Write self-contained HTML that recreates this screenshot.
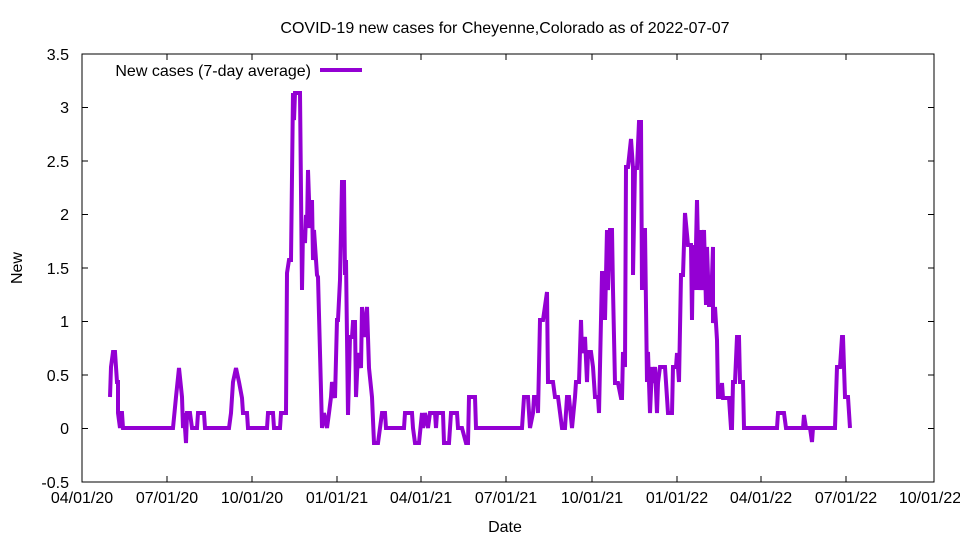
<!DOCTYPE html>
<html><head><meta charset="utf-8"><style>body{margin:0;background:#fff}svg{display:block}text{font-family:"Liberation Sans",sans-serif;font-size:16px;fill:#000}</style></head><body>
<svg width="960" height="540" viewBox="0 0 960 540">
<rect x="82" y="54" width="852" height="428" fill="none" stroke="#000" stroke-width="1"/>
<g stroke="#000" stroke-width="1">
<path d="M82 482h6M934 482h-6M82 428.5h6M934 428.5h-6M82 375h6M934 375h-6M82 321.5h6M934 321.5h-6M82 268h6M934 268h-6M82 214.5h6M934 214.5h-6M82 161h6M934 161h-6M82 107.5h6M934 107.5h-6M82 54h6M934 54h-6"/>
<path d="M167 482v-6M167 54v6M252 482v-6M252 54v6M337 482v-6M337 54v6M421 482v-6M421 54v6M506 482v-6M506 54v6M592 482v-6M592 54v6M677 482v-6M677 54v6M761 482v-6M761 54v6M846 482v-6M846 54v6"/>
</g>
<g text-anchor="end">
<text x="69" y="488">-0.5</text><text x="69" y="434">0</text><text x="69" y="381">0.5</text><text x="69" y="327">1</text><text x="69" y="274">1.5</text><text x="69" y="220">2</text><text x="69" y="167">2.5</text><text x="69" y="113">3</text><text x="69" y="60">3.5</text>
</g>
<g text-anchor="middle">
<text x="82" y="503">04/01/20</text><text x="167" y="503">07/01/20</text><text x="252" y="503">10/01/20</text><text x="337" y="503">01/01/21</text><text x="421" y="503">04/01/21</text><text x="506" y="503">07/01/21</text><text x="592" y="503">10/01/21</text><text x="677" y="503">01/01/22</text><text x="761" y="503">04/01/22</text><text x="846" y="503">07/01/22</text><text x="930" y="503">10/01/22</text>
<text x="505" y="532">Date</text>
<text x="505" y="33">COVID-19 new cases for Cheyenne,Colorado as of 2022-07-07</text>
</g>
<text x="22" y="268" text-anchor="middle" transform="rotate(-90 22 268)">New</text>
<text x="311" y="76" text-anchor="end">New cases (7-day average)</text>
<path d="M320 70H362" stroke="#9400d3" stroke-width="4"/>
<polyline fill="none" stroke="#9400d3" stroke-width="4" stroke-linejoin="miter" points="110,397 111,367 113,352 115,352 117,382 118,382 118,413 120,428 121,413 122,413 123,428 173,428 176,397 179,368 182,397 183,428 184,413 186,443 187,413 190,413 192,428 197,428 198,413 204,413 205,428 229,428 231,413 233,382 236,368 239,382 242,398 243,413 247,413 248,428 267,428 268,413 273,413 274,428 280,428 281,413 286,413 287,273 289,260 291,260 293,93 294,120 295,93 300,93 302,290 303,230 305,243 306,215 307,228 308,170 310,228 312,200 313,260 314,230 317,275 318,277 322,428 324,413 327,428 329,413 331,397 332,382 335,398 337,320 338,320 340,280 342,182 344,182 345,275 346,260 348,415 350,337 352,337 353,322 355,322 356,397 358,353 361,368 362,307 364,337 367,307 369,368 372,397 374,443 378,443 382,413 385,413 386,428 404,428 405,413 412,413 413,428 415,443 419,443 422,413 423,428 425,413 428,428 430,413 435,413 436,428 437,413 443,413 444,443 449,443 451,413 457,413 458,428 462,428 466,443 468,443 469,397 475,397 476,428 522,428 524,397 528,397 530,428 533,413 534,397 537,397 538,413 540,320 543,320 547,292 548,382 553,382 555,397 558,397 562,428 565,428 567,397 569,397 572,428 575,397 576,382 579,382 581,320 582,353 585,337 587,382 588,352 591,352 593,367 595,397 598,397 599,413 602,273 604,273 605,320 607,230 608,290 610,230 612,230 613,290 615,383 618,383 621,398 622,398 623,352 625,367 626,167 628,167 631,139 633,168 633,275 635,168 637,168 639,122 641,122 642,290 643,230 645,230 647,382 648,352 650,413 652,367 653,383 655,367 657,413 658,383 660,367 665,367 668,413 672,413 673,367 676,367 677,353 679,382 681,275 683,275 685,213 688,245 691,245 692,320 693,245 695,290 697,200 699,290 701,230 702,290 704,230 706,305 707,247 709,305 711,305 713,247 713,323 715,307 717,340 718,397 721,397 722,383 723,398 729,398 731,428 732,428 733,382 735,382 737,337 739,337 740,382 743,382 744,428 777,428 778,413 784,413 786,428 803,428 804,415 806,428 810,428 812,442 813,428 835,428 837,367 840,367 842,337 843,337 845,397 848,397 850,428"/>
</svg>
</body></html>
